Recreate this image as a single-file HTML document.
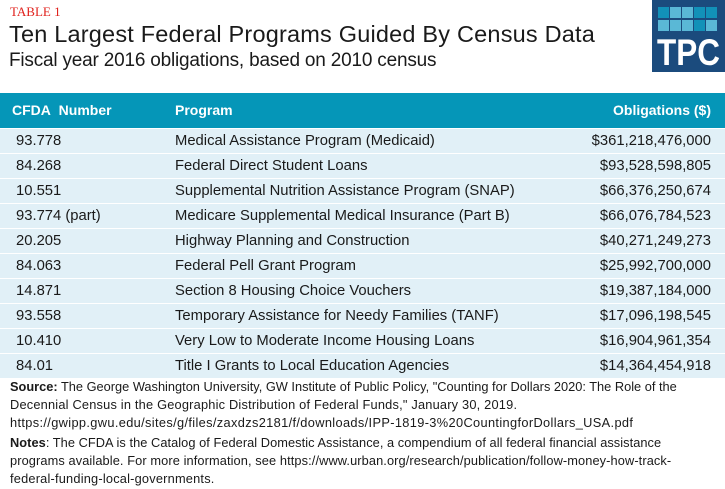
<!DOCTYPE html><html><head><style>
body{margin:0;width:725px;height:489px;background:#fff;font-family:"Liberation Sans",sans-serif;position:relative;overflow:hidden;color:#1a1a1a}
.a{position:absolute;white-space:nowrap}
.row{position:absolute;left:0;width:725px;height:24px;background:#e1f0f7;font-size:14.8px;line-height:25px}
.row span{position:absolute}
.n{left:16px}.p{left:175px}.o{right:14px}
.sq{position:absolute;width:11px;height:11px}
</style></head><body>
<div class="a" style="left:10px;top:4px;font-family:'Liberation Serif',serif;color:#e0201b;font-size:13px">TABLE 1</div>
<div class="a" style="left:9px;top:21px;font-size:23.5px;letter-spacing:0.2px">Ten Largest Federal Programs Guided By Census Data</div>
<div class="a" style="left:9px;top:50px;font-size:19px;letter-spacing:-0.2px">Fiscal year 2016 obligations, based on 2010 census</div>
<div class="a" style="left:652px;top:0;width:73px;height:72px;background:#1b4b7d">
<div class="sq" style="left:6px;top:7px;background:#1291b8"></div><div class="sq" style="left:18px;top:7px;background:#5ab8d6"></div><div class="sq" style="left:30px;top:7px;background:#5ab8d6"></div><div class="sq" style="left:42px;top:7px;background:#1291b8"></div><div class="sq" style="left:54px;top:7px;background:#1291b8"></div>
<div class="sq" style="left:6px;top:20px;background:#5ab8d6"></div><div class="sq" style="left:18px;top:20px;background:#5ab8d6"></div><div class="sq" style="left:30px;top:20px;background:#5ab8d6"></div><div class="sq" style="left:42px;top:20px;background:#1291b8"></div><div class="sq" style="left:54px;top:20px;background:#5ab8d6"></div>
<div class="a" style="left:5px;top:33px;color:#fff;font-weight:bold;font-size:37px;line-height:40px;transform:scaleX(0.85);transform-origin:left">TPC</div>
</div>
<div class="a" style="left:0;top:93px;width:725px;height:35px;background:#0596b8;color:#fff;font-weight:bold;font-size:14px;line-height:35px">
<span class="a" style="left:12px">CFDA&nbsp; Number</span><span class="a" style="left:175px">Program</span><span class="a" style="right:14px">Obligations ($)</span></div>
<div class="row" style="top:129px"><span class="n">93.778</span><span class="p">Medical Assistance Program (Medicaid)</span><span class="o">$361,218,476,000</span></div>
<div class="row" style="top:154px"><span class="n">84.268</span><span class="p">Federal Direct Student Loans</span><span class="o">$93,528,598,805</span></div>
<div class="row" style="top:179px"><span class="n">10.551</span><span class="p">Supplemental Nutrition Assistance Program (SNAP)</span><span class="o">$66,376,250,674</span></div>
<div class="row" style="top:204px"><span class="n">93.774 (part)</span><span class="p">Medicare Supplemental Medical Insurance (Part B)</span><span class="o">$66,076,784,523</span></div>
<div class="row" style="top:229px"><span class="n">20.205</span><span class="p">Highway Planning and Construction</span><span class="o">$40,271,249,273</span></div>
<div class="row" style="top:254px"><span class="n">84.063</span><span class="p">Federal Pell Grant Program</span><span class="o">$25,992,700,000</span></div>
<div class="row" style="top:279px"><span class="n">14.871</span><span class="p">Section 8 Housing Choice Vouchers</span><span class="o">$19,387,184,000</span></div>
<div class="row" style="top:304px"><span class="n">93.558</span><span class="p">Temporary Assistance for Needy Families (TANF)</span><span class="o">$17,096,198,545</span></div>
<div class="row" style="top:329px"><span class="n">10.410</span><span class="p">Very Low to Moderate Income Housing Loans</span><span class="o">$16,904,961,354</span></div>
<div class="row" style="top:354px"><span class="n">84.01</span><span class="p">Title I Grants to Local Education Agencies</span><span class="o">$14,364,454,918</span></div>
<div class="a" style="left:10px;top:378px;font-size:12.8px;line-height:18px;letter-spacing:0.2px">
<div style="letter-spacing:0px"><b>Source:</b> The George Washington University, GW Institute of Public Policy, "Counting for Dollars 2020: The Role of the</div>
<div>Decennial Census in the Geographic Distribution of Federal Funds," January 30, 2019.</div>
<div style="letter-spacing:0.35px">https://gwipp.gwu.edu/sites/g/files/zaxdzs2181/f/downloads/IPP-1819-3%20CountingforDollars_USA.pdf</div>
<div style="margin-top:2px;letter-spacing:0.05px"><b>Notes</b>: The CFDA is the Catalog of Federal Domestic Assistance, a compendium of all federal financial assistance</div>
<div style="letter-spacing:0.1px">programs available. For more information, see https://www.urban.org/research/publication/follow-money-how-track-</div>
<div>federal-funding-local-governments.</div>
</div>
</body></html>
